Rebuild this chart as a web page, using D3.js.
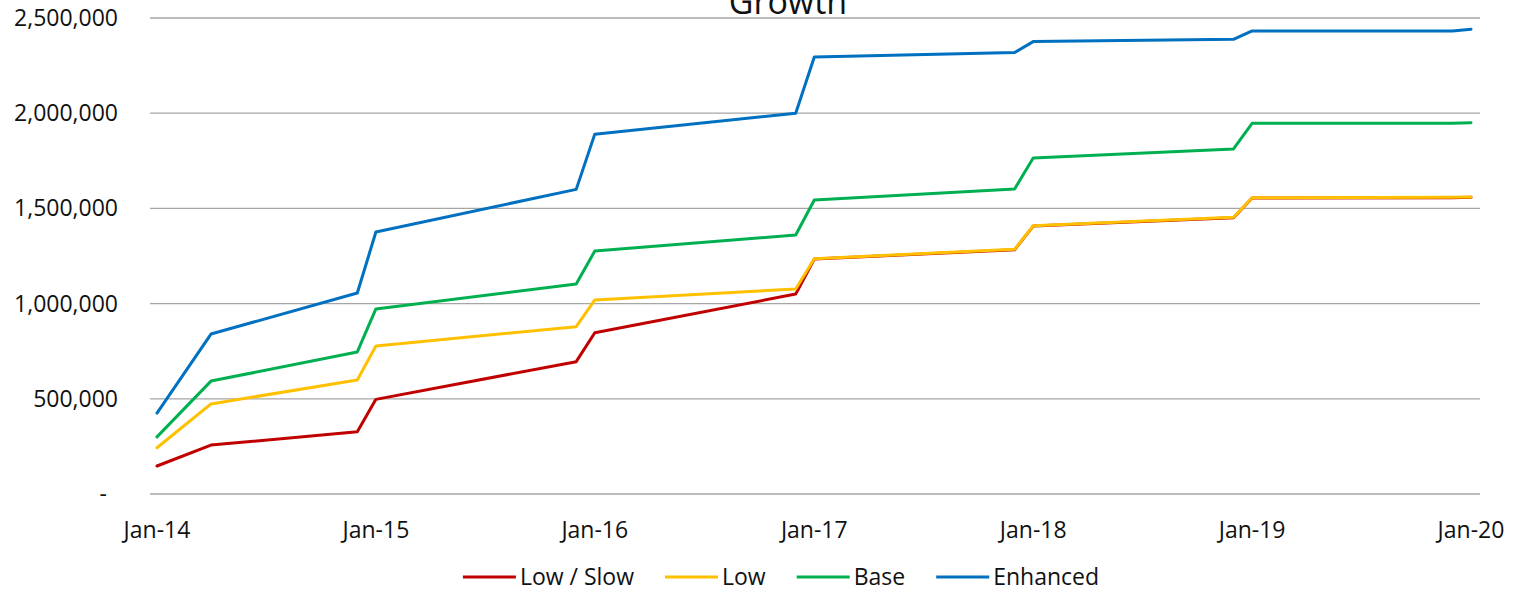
<!DOCTYPE html>
<html>
<head>
    <title>Growth</title>
    <script src="https://d3js.org/d3.v7.min.js"></script>
    <style>
        body { margin: 0; background: #fff; }
        svg text { font-family: "Open Sans", sans-serif; fill: #111; }
        .grid line { stroke: #a6a6a6; stroke-width: 1.3px; }
        .series { fill: none; stroke-width: 3px; stroke-linejoin: round; stroke-linecap: round; }
    </style>
</head>
<body>
    <svg width="1516" height="591"></svg>

    <script>
        // data
        const dates = ["2014-01", "2014-04", "2014-12", "2015-01", "2015-12", "2016-01", "2016-12",
                       "2017-01", "2017-12", "2018-01", "2018-12", "2019-01", "2019-12", "2020-01"];
        const lowSlow  = [147000, 257000, 327000, 497000, 695000, 847000, 1050000, 1234000, 1283000, 1407000, 1451000, 1555000, 1556000, 1558000];
        const low      = [243000, 473000, 599000, 777000, 879000, 1019000, 1077000, 1236000, 1285000, 1409000, 1453000, 1556000, 1558000, 1560000];
        const base     = [300000, 593000, 746000, 972000, 1103000, 1276000, 1360000, 1544000, 1602000, 1765000, 1812000, 1947000, 1947000, 1950000];
        const enhanced = [425000, 840000, 1056000, 1376000, 1600000, 1890000, 2000000, 2295000, 2319000, 2376000, 2388000, 2432000, 2432000, 2441000];

        const seriesNames = ["Low / Slow", "Low", "Base", "Enhanced"];
        const seriesColors = ["#c00000", "#ffc000", "#00b050", "#0070c0"];
        const yTicks = [0, 500000, 1000000, 1500000, 2000000, 2500000];
        const xTickYears = [2014, 2015, 2016, 2017, 2018, 2019, 2020];

        const svg = d3.select("svg");
        const parse = d3.timeParse("%Y-%m");
        const dateVals = dates.map(parse);
        const allSeries = [lowSlow, low, base, enhanced];

        const plotLeft = 150, plotRight = 1480;

        const x = d3.scaleTime()
            .domain([new Date(2014, 0, 1), new Date(2020, 0, 1)])
            .range([157, 1471]);
        const y = d3.scaleLinear()
            .domain([0, 2500000])
            .range([494, 18]);

        // gridlines
        svg.append("g").attr("class", "grid")
            .selectAll("line")
            .data(yTicks)
            .enter().append("line")
            .attr("x1", plotLeft)
            .attr("x2", plotRight)
            .attr("y1", d => y(d))
            .attr("y2", d => y(d));

        // y axis labels
        const fmt = d3.format(",");
        svg.append("g")
            .selectAll("text")
            .data(yTicks)
            .enter().append("text")
            .attr("x", d => d === 0 ? 107 : 118)
            .attr("y", d => y(d))
            .attr("dy", "0.35em")
            .attr("text-anchor", "end")
            .style("font-size", "23px")
            .text(d => d === 0 ? "-" : fmt(d));

        // x axis labels
        const xFmt = d3.timeFormat("%b-%y");
        svg.append("g")
            .selectAll("text")
            .data(xTickYears.map(yr => new Date(yr, 0, 1)))
            .enter().append("text")
            .attr("x", d => x(d))
            .attr("y", 530)
            .attr("dy", "0.35em")
            .attr("text-anchor", "middle")
            .style("font-size", "23px")
            .text(d => xFmt(d));

        // lines
        const line = d3.line()
            .x((d, i) => x(dateVals[i]))
            .y(d => y(d));

        svg.append("g")
            .selectAll("path")
            .data(allSeries)
            .enter().append("path")
            .attr("class", "series")
            .attr("stroke", (d, i) => seriesColors[i])
            .attr("d", line);

        // title (cut off at top, as in the original)
        svg.append("text")
            .attr("x", 788)
            .attr("y", 14)
            .attr("text-anchor", "middle")
            .style("font-size", "34px")
            .text("Growth");

        // legend
        const legend = svg.append("g");
        let lx = 0;
        seriesNames.forEach((name, i) => {
            const g = legend.append("g").attr("transform", `translate(${lx},0)`);
            g.append("line")
                .attr("x1", 0).attr("x2", 53)
                .attr("y1", 0).attr("y2", 0)
                .attr("stroke", seriesColors[i])
                .attr("stroke-width", 3);
            const t = g.append("text")
                .attr("x", 57)
                .attr("dy", "0.35em")
                .style("font-size", "23px")
                .text(name);
            lx += 57 + t.node().getComputedTextLength() + 31;
        });
        const legendWidth = lx - 31;
        legend.attr("transform", `translate(${781 - legendWidth / 2},577)`);
    </script>
</body>
</html>
